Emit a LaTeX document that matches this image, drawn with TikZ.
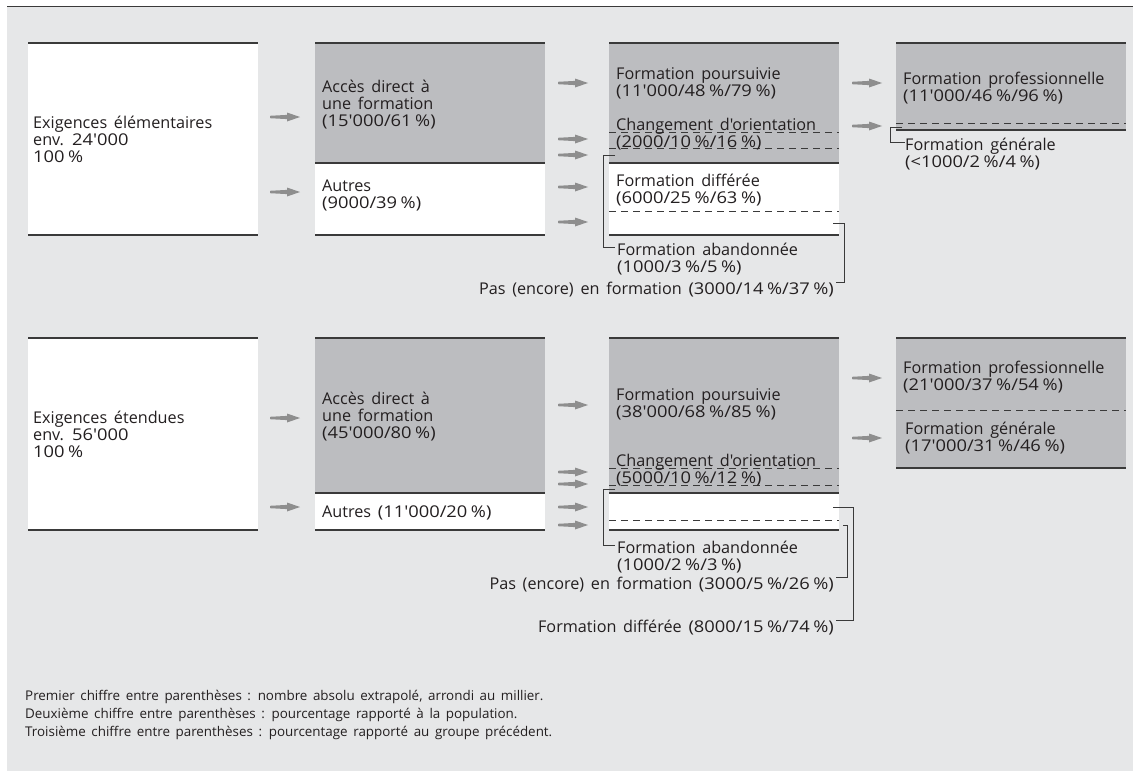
\documentclass[tikz,border=0pt]{standalone}
\usepackage{fontspec}
\newfontfamily\lblfont{Open Sans}[WordSpace=1.6]
\newfontfamily\numfont{Open Sans}[WordSpace=1.6, FakeStretch=1.13]
\definecolor{panel}{HTML}{E6E7E8}
\definecolor{boxgray}{HTML}{BCBDC0}
\definecolor{arrowgray}{HTML}{8E8E8E}
\definecolor{rulecol}{HTML}{3A3A3A}
\definecolor{ink}{HTML}{231F20}
\newcommand{\pc}{\hspace{0.22em}\%}
\newcommand{\nb}[1]{{\numfont #1}}
\newcommand{\rowgap}{17}
% one text line per node, rows spaced by \rowgap
\newcommand{\textrows}[4]{%
  \foreach \t [count=\i] in {#4} {\node[txt] (#1-\i) at (#2,{#3+(\i-1)*\rowgap}) {\t};}}
\begin{document}
\begin{tikzpicture}[x=1pt,y=-1pt,
  txt/.style={font=\lblfont\fontsize{16.2}{17}\selectfont, inner sep=0pt, anchor=base west, text=ink},
  txtr/.style={txt, anchor=base east},
  notetxt/.style={txt, font=\lblfont\fontsize{13.4}{17}\selectfont},
  solidrule/.style={draw=rulecol, line width=1.4pt},
  dashrule/.style={draw=rulecol, line width=1pt, dash pattern=on 7pt off 5pt},
  bracket/.style={draw=rulecol, line width=0.9pt},
  flowarrow/.pic={\fill[arrowgray] (0,-1.2) -- (17,-2.1) -- (17,-4.5) -- (30,0) -- (17,4.5) -- (17,2.1) -- (0,1.2) -- cycle;}
]
\useasboundingbox (0,0) rectangle (1133,771);
\fill[white] (0,0) rectangle (1133,771);
\fill[panel] (7,7) rectangle (1133,771);
\draw[solidrule, line width=1.3pt] (7,6.5) -- (1133,6.5);

% ---------------- upper block: Exigences élémentaires ----------------
\fill[white] (28,43) rectangle (258,235);
\draw[solidrule] (28,43) -- (258,43) (28,235) -- (258,235);
\textrows{e1}{33}{128}{Exigences élémentaires, env. \nb{24'000}, \nb{100\pc}}

\fill[boxgray] (315,43) rectangle (545,163);
\fill[white] (315,163) rectangle (545,235);
\draw[solidrule] (315,43) -- (545,43) (315,163) -- (545,163) (315,235) -- (545,235);
\textrows{a1}{322}{92}{Accès direct à, une formation, \nb{(15'000/61\pc)}}
\textrows{o1}{322}{191}{Autres, \nb{(9000/39\pc)}}

\fill[boxgray] (609,43) rectangle (839,163);
\fill[white] (609,163) rectangle (839,235);
\draw[dashrule] (609,132) -- (839,132) (609,148) -- (839,148) (609,211) -- (839,211);
\draw[solidrule] (609,43) -- (839,43) (609,163) -- (839,163) (609,235) -- (839,235);
\textrows{p1}{616}{79}{Formation poursuivie, \nb{(11'000/48\pc/79\pc)}}
\textrows{c1}{616}{130}{Changement d'orientation, \nb{(2000/10\pc/16\pc)}}
\textrows{d1}{616}{186}{Formation différée, \nb{(6000/25\pc/63\pc)}}

\fill[boxgray] (896,43) rectangle (1126,130);
\draw[dashrule] (896,123) -- (1126,123);
\draw[solidrule] (896,43) -- (1126,43) (896,130) -- (1126,130);
\textrows{f1}{903}{84}{Formation professionnelle, \nb{(11'000/46\pc/96\pc)}}
\textrows{g1}{905}{150}{Formation générale, \nb{(<1000/2\pc/4\pc)}}
\coordinate (g1top) at (902,127);
\draw[bracket] (g1top) -| (890,142) -- (g1-1.base west |- 0,142);

\textrows{b1}{617}{255}{Formation abandonnée, \nb{(1000/3\pc/5\pc)}}
\coordinate (b1top) at (615,155);
\draw[bracket] (b1top) -| (603,247) -- (615,247);

\node[txtr] (n1) at (834,294) {Pas (encore) en formation \nb{(3000/14\pc/37\pc)}};
\coordinate (n1top) at (833,223);
\draw[bracket] (n1top) -| (844,282) -- (836,282);

\foreach \yy in {117,192} \pic at (270,\yy) {flowarrow};
\foreach \yy in {83,139,155,187,222} \pic at (558,\yy) {flowarrow};
\foreach \yy in {83,126} \pic at (852,\yy) {flowarrow};

% ---------------- lower block: Exigences étendues ----------------
\fill[white] (28,338) rectangle (258,530);
\draw[solidrule] (28,338) -- (258,338) (28,530) -- (258,530);
\textrows{e2}{33}{423}{Exigences étendues, env. \nb{56'000}, \nb{100\pc}}

\fill[boxgray] (315,338) rectangle (545,493);
\fill[white] (315,493) rectangle (545,530);
\draw[solidrule] (315,338) -- (545,338) (315,493) -- (545,493) (315,530) -- (545,530);
\textrows{a2}{322}{404}{Accès direct à, une formation, \nb{(45'000/80\pc)}}
\node[txt] (o2) at (322,517) {Autres \nb{(11'000/20\pc)}};

\fill[boxgray] (609,338) rectangle (839,493);
\fill[white] (609,493) rectangle (839,530);
\draw[dashrule] (609,468) -- (839,468) (609,485) -- (839,485) (609,520) -- (839,520);
\draw[solidrule] (609,338) -- (839,338) (609,493) -- (839,493) (609,530) -- (839,530);
\textrows{p2}{616}{400}{Formation poursuivie, \nb{(38'000/68\pc/85\pc)}}
\textrows{c2}{616}{466}{Changement d'orientation, \nb{(5000/10\pc/12\pc)}}

\fill[boxgray] (896,338) rectangle (1126,468);
\draw[dashrule] (896,410) -- (1126,410);
\draw[solidrule] (896,338) -- (1126,338) (896,468) -- (1126,468);
\textrows{f2}{903}{373}{Formation professionnelle, \nb{(21'000/37\pc/54\pc)}}
\textrows{g2}{905}{434}{Formation générale, \nb{(17'000/31\pc/46\pc)}}

\textrows{b2}{617}{553}{Formation abandonnée, \nb{(1000/2\pc/3\pc)}}
\coordinate (b2top) at (615,489);
\draw[bracket] (b2top) -| (603,545) -- (615,545);

\node[txtr] (n2) at (834,589) {Pas (encore) en formation \nb{(3000/5\pc/26\pc)}};
\coordinate (n2top) at (843,525);
\draw[bracket] (n2top) -| (847,577) -- (836,577);

\node[txtr] (d2) at (834,632) {Formation différée \nb{(8000/15\pc/74\pc)}};
\coordinate (d2top) at (833,507);
\draw[bracket] (d2top) -| (853,620) -- (836,620);

\foreach \yy in {418,507} \pic at (270,\yy) {flowarrow};
\foreach \yy in {405,472,484,507,525} \pic at (558,\yy) {flowarrow};
\foreach \yy in {378,438} \pic at (852,\yy) {flowarrow};

% ---------------- notes ----------------
\foreach \t [count=\i] in {{Premier chiffre entre parenthèses : nombre absolu extrapolé, arrondi au millier.},
  {Deuxième chiffre entre parenthèses : pourcentage rapporté à la population.},
  {Troisième chiffre entre parenthèses : pourcentage rapporté au groupe précédent.}}
  \node[notetxt] (note-\i) at (25,{700+(\i-1)*18}) {\t};
\end{tikzpicture}
\end{document}
